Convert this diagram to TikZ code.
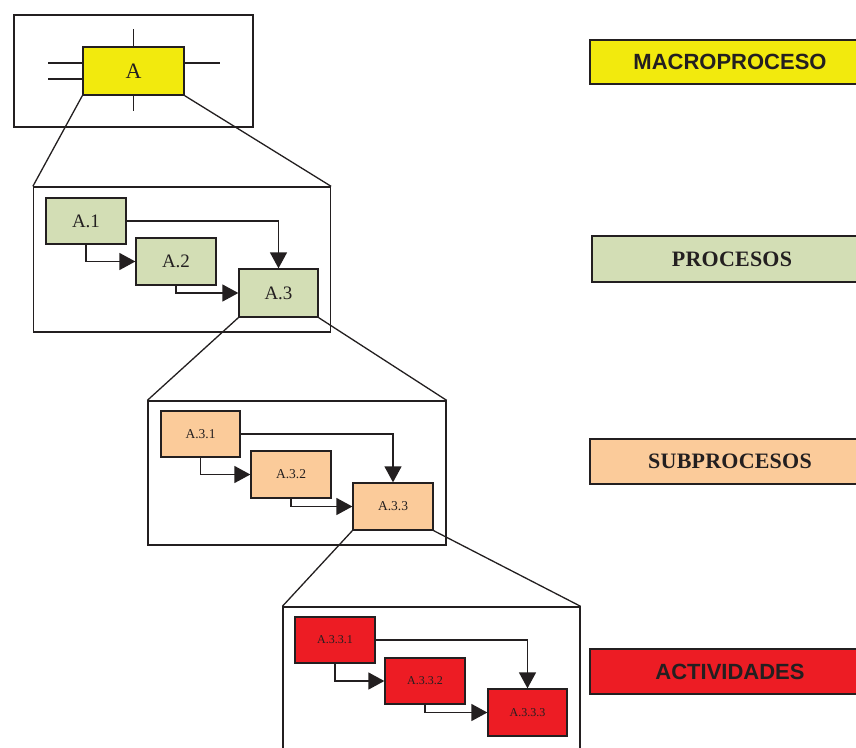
\documentclass[tikz,border=0pt]{standalone}
\usepackage{fontspec}
\setmainfont{Liberation Serif}
\newfontfamily\labsans{Liberation Sans}
\usetikzlibrary{arrows.meta}
\definecolor{cyel}{HTML}{F2EA0D}
\definecolor{cgrn}{HTML}{D3DEB5}
\definecolor{cpch}{HTML}{FBCB9A}
\definecolor{cred}{HTML}{ED1C24}
\definecolor{ctxt}{HTML}{231F20}
\tikzset{
  frame/.style={draw=ctxt, line width=1.3pt, fill=white, inner sep=0pt},
  pbox/.style={draw=ctxt, line width=1.3pt, inner sep=0pt, text=ctxt},
  fsA/.style={font=\fontsize{22}{24}\selectfont},
  fsB/.style={font=\fontsize{19}{21}\selectfont},
  fsC/.style={font=\fontsize{13.5}{15}\selectfont},
  fsD/.style={font=\fontsize{12}{14}\selectfont},
  arr/.style={draw=ctxt, line width=1.4pt, -{Triangle[length=16pt,width=17pt]}},
  zoomline/.style={draw=ctxt, line width=1.3pt},
  lab/.style={draw=ctxt, line width=1.5pt, inner sep=0pt, minimum width=280pt, text=ctxt},
  labsans/.style={font=\labsans\bfseries\fontsize{22}{24}\selectfont},
  labserif/.style={font=\bfseries\addfontfeatures{LetterSpace=1}\fontsize{22}{24}\selectfont}
}
\begin{document}
\begin{tikzpicture}[x=1pt,y=-1pt]
\useasboundingbox (0,0) rectangle (856,747);
\clip (0,0) rectangle (856,747);
\fill[white] (0,0) rectangle (856,747);

% level 1
\node[frame, minimum width=239pt, minimum height=112pt] (F1) at (133.5,71) {};
\node[pbox, fill=cyel, fsA, minimum width=101pt, minimum height=48pt] (A) at (133.5,71) {A};
\draw[zoomline] (A.north) -- ++(0,-17);
\draw[zoomline] (A.south) -- ++(0,15);
\draw[zoomline] ([yshift=-8pt]A.west) -- ++(-34,0);
\draw[zoomline] ([yshift=8pt]A.west) -- ++(-34,0);
\draw[zoomline] ([yshift=8pt]A.east) -- ++(35,0);

% level 2
\node[frame, minimum width=297pt, minimum height=145pt] (F2) at (182,259.5) {};
\node[pbox, fill=cgrn, fsB, minimum width=80pt, minimum height=46pt] (a1) at (86,221) {A.1};
\node[pbox, fill=cgrn, fsB, minimum width=80pt, minimum height=47pt] (a2) at (176,261.5) {A.2};
\node[pbox, fill=cgrn, fsB, minimum width=79pt, minimum height=48pt] (a3) at (278.5,293) {A.3};
\draw[arr] (a1.east) -| (a3.north);
\draw[arr] (a1.south) |- (a2.west);
\draw[arr] (a2.south) |- (a3.west);
\draw[zoomline] (A.south west) -- (F2.north west);
\draw[zoomline] (A.south east) -- (F2.north east);

% level 3
\node[frame, minimum width=298pt, minimum height=144pt] (F3) at (297,473) {};
\node[pbox, fill=cpch, fsC, minimum width=79pt, minimum height=46pt] (b1) at (200.5,434) {A.3.1};
\node[pbox, fill=cpch, fsC, minimum width=80pt, minimum height=47pt] (b2) at (291,474.5) {A.3.2};
\node[pbox, fill=cpch, fsC, minimum width=80pt, minimum height=47pt] (b3) at (393,506.5) {A.3.3};
\draw[arr] (b1.east) -| (b3.north);
\draw[arr] (b1.south) |- (b2.west);
\draw[arr] (b2.south) |- (b3.west);
\draw[zoomline] (a3.south west) -- (F3.north west);
\draw[zoomline] (a3.south east) -- (F3.north east);

% level 4
\node[frame, minimum width=297pt, minimum height=150pt] (F4) at (431.5,682) {};
\node[pbox, fill=cred, fsD, minimum width=80pt, minimum height=46pt] (c1) at (335,640) {A.3.3.1};
\node[pbox, fill=cred, fsD, minimum width=80pt, minimum height=46pt] (c2) at (425,681) {A.3.3.2};
\node[pbox, fill=cred, fsD, minimum width=79pt, minimum height=47pt] (c3) at (527.5,712.5) {A.3.3.3};
\draw[arr] (c1.east) -| (c3.north);
\draw[arr] (c1.south) |- (c2.west);
\draw[arr] (c2.south) |- (c3.west);
\draw[zoomline] (b3.south west) -- (F4.north west);
\draw[zoomline] (b3.south east) -- (F4.north east);

% labels
\node[lab, fill=cyel, labsans, minimum height=44pt] (L1) at (730,62) {MACROPROCESO};
\node[lab, fill=cgrn, labserif, minimum height=46pt] (L2) at (732,259) {PROCESOS};
\node[lab, fill=cpch, labserif, minimum height=45pt] (L3) at (730,461.5) {SUBPROCESOS};
\node[lab, fill=cred, labsans, minimum height=45pt] (L4) at (730,671.5) {ACTIVIDADES};
\end{tikzpicture}
\end{document}
